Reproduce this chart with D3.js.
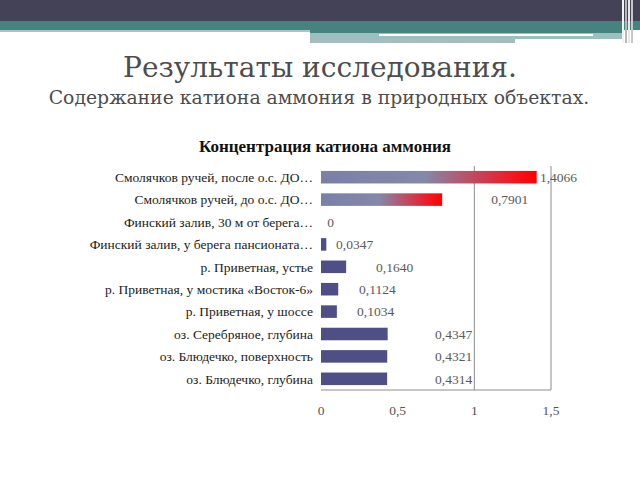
<!DOCTYPE html>
<html>
<head>
<meta charset="utf-8">
<script src="https://cdn.jsdelivr.net/npm/d3@7"></script>
<style>
  body { margin: 0; background: #fff; }
  svg { display: block; }
  .serif { font-family: 'Liberation Serif', 'Times New Roman', serif; }
  .slide { font-family: 'DejaVu Serif', Georgia, serif; }
</style>
</head>
<body>
<script>
// data
const categories = [
  "Смолячков ручей, после о.с. ДО…",
  "Смолячков ручей, до о.с. ДО…",
  "Финский залив, 30 м от берега…",
  "Финский залив, у берега пансионата…",
  "р. Приветная, устье",
  "р. Приветная, у мостика «Восток-6»",
  "р. Приветная, у шоссе",
  "оз. Серебряное, глубина",
  "оз. Блюдечко, поверхность",
  "оз. Блюдечко, глубина"
];
const values = [1.4066, 0.7901, 0, 0.0347, 0.1640, 0.1124, 0.1034, 0.4347, 0.4321, 0.4314];
const valueLabels = ["1,4066", "0,7901", "0", "0,0347", "0,1640", "0,1124", "0,1034", "0,4347", "0,4321", "0,4314"];
// where each data label sits, in axis units (labels were dragged by hand in the original)
const labelAt = [1.428, 1.11, 0.04, 0.098, 0.359, 0.248, 0.235, 0.744, 0.744, 0.744];
const highlighted = [true, true, false, false, false, false, false, false, false, false];
const xTicks = [0, 0.5, 1, 1.5];
const xTickLabels = ["0", "0,5", "1", "1,5"];

const svg = d3.select("body").append("svg")
  .attr("width", 640)
  .attr("height", 480);

// slide header bands
const header = svg.append("g");
header.append("rect").attr("x", 0).attr("y", 0).attr("width", 640).attr("height", 21).attr("fill", "#434257");
header.append("rect").attr("x", 0).attr("y", 21).attr("width", 640).attr("height", 9).attr("fill", "#468280");
header.append("rect").attr("x", 0).attr("y", 30).attr("width", 310).attr("height", 2).attr("fill", "#a9c6c6");
header.append("rect").attr("x", 310).attr("y", 30).attr("width", 312).attr("height", 3).attr("fill", "#468280");
header.append("rect").attr("x", 310).attr("y", 33).attr("width", 312).attr("height", 6).attr("fill", "#9dbfc0");
header.append("rect").attr("x", 379).attr("y", 34).attr("width", 214).attr("height", 2).attr("fill", "#ffffff");
header.append("rect").attr("x", 310).attr("y", 39).attr("width", 205).attr("height", 4).attr("fill", "#a6bcbe");
[[622, "#f2f2f2"], [625, "#b8b8b8"], [628, "#e8e8e8"], [631, "#c8c8c8"]].forEach(([x, c]) => {
  header.append("rect").attr("x", x).attr("y", 0).attr("width", 2).attr("height", 43).attr("fill", c);
});

// slide titles
svg.append("text")
  .attr("class", "slide")
  .attr("x", 320).attr("y", 77)
  .attr("text-anchor", "middle")
  .style("font-size", "28px")
  .attr("fill", "#4d4d4d")
  .text("Результаты исследования.");
svg.append("text")
  .attr("class", "slide")
  .attr("x", 319).attr("y", 104)
  .attr("text-anchor", "middle")
  .style("font-size", "18.8px")
  .attr("fill", "#4d4d4d")
  .text("Содержание катиона аммония в природных объектах.");

// chart
const plotLeft = 321, plotRight = 551, plotTop = 166, plotBottom = 390;

const x = d3.scaleLinear().domain([0, 1.5]).range([plotLeft, plotRight]);
const y = d3.scaleBand().domain(categories).range([plotTop, plotBottom]).paddingInner(0.44).paddingOuter(0.22);

svg.append("text")
  .attr("class", "serif")
  .attr("x", 325).attr("y", 152)
  .attr("text-anchor", "middle")
  .style("font-size", "17px")
  .style("font-weight", "bold")
  .attr("fill", "#111")
  .text("Концентрация катиона аммония");

const defs = svg.append("defs");
const grad = defs.append("linearGradient").attr("id", "hot");
grad.append("stop").attr("offset", "0%").attr("stop-color", "#7a80a6");
grad.append("stop").attr("offset", "48%").attr("stop-color", "#8488aa");
grad.append("stop").attr("offset", "88%").attr("stop-color", "#ee1a26");
grad.append("stop").attr("offset", "100%").attr("stop-color", "#ff0000");

// gridline at 1 and right frame + bottom line
svg.append("g")
  .selectAll("line")
  .data([1, 1.5])
  .enter().append("line")
    .attr("x1", d => x(d)).attr("x2", d => x(d))
    .attr("y1", plotTop).attr("y2", plotBottom)
    .attr("stroke", "#8c8c8c").attr("stroke-width", 1);
svg.append("line")
  .attr("x1", plotLeft).attr("x2", plotRight)
  .attr("y1", plotBottom).attr("y2", plotBottom)
  .attr("stroke", "#8c8c8c").attr("stroke-width", 1);

// bars
svg.selectAll(".bar")
  .data(values)
  .enter().append("rect")
    .attr("class", "bar")
    .attr("x", x(0))
    .attr("y", (d, i) => y(categories[i]))
    .attr("width", d => x(d) - x(0))
    .attr("height", y.bandwidth())
    .attr("fill", (d, i) => highlighted[i] ? "url(#hot)" : "#4f4f86");

// category labels
svg.selectAll(".cat")
  .data(categories)
  .enter().append("text")
    .attr("class", "cat serif")
    .attr("x", plotLeft - 8)
    .attr("y", d => y(d) + y.bandwidth() / 2)
    .attr("dy", "0.35em")
    .attr("text-anchor", "end")
    .style("font-size", "13.5px")
    .attr("fill", "#222")
    .text(d => d);

// value labels
svg.selectAll(".label")
  .data(valueLabels)
  .enter().append("text")
    .attr("class", "label serif")
    .attr("x", (d, i) => x(labelAt[i]))
    .attr("y", (d, i) => y(categories[i]) + y.bandwidth() / 2)
    .attr("dy", "0.35em")
    .style("font-size", "13.5px")
    .attr("fill", "#5a5a5a")
    .text(d => d);

// x tick labels
svg.selectAll(".xt")
  .data(xTicks)
  .enter().append("text")
    .attr("class", "xt serif")
    .attr("x", d => x(d))
    .attr("y", 415)
    .attr("text-anchor", "middle")
    .style("font-size", "13.5px")
    .attr("fill", "#555")
    .text((d, i) => xTickLabels[i]);
</script>
</body>
</html>
